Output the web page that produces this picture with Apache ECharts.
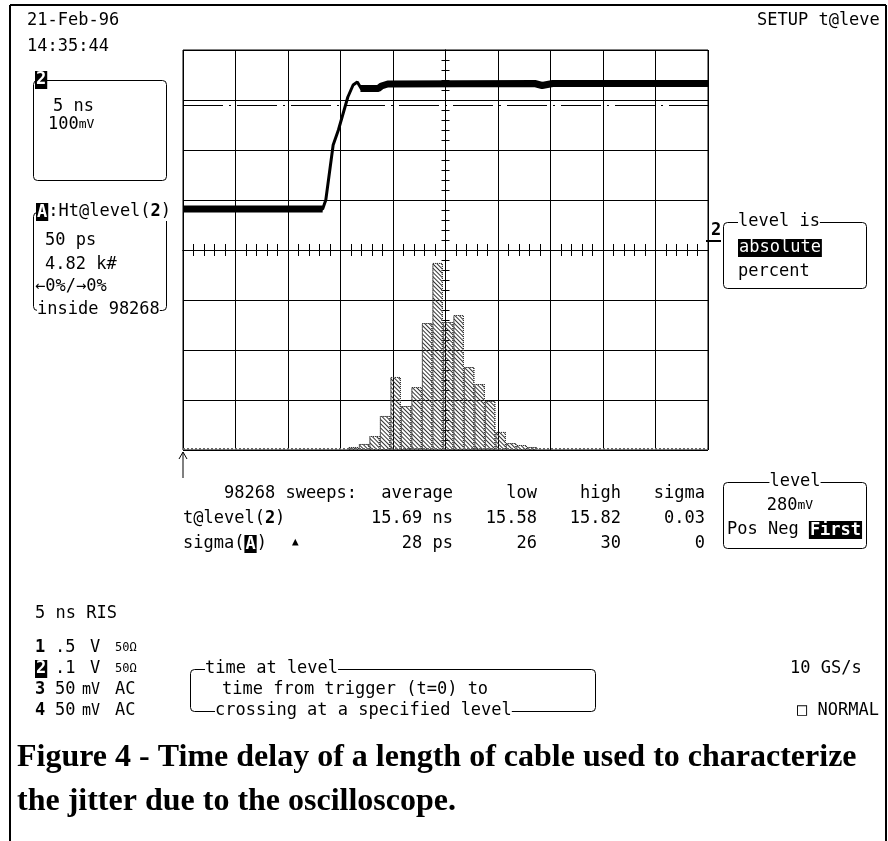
<!DOCTYPE html>
<html>
<head>
<meta charset="utf-8">
<script src="https://cdn.jsdelivr.net/npm/echarts@6/dist/echarts.min.js"></script>
<style>
html, body { margin: 0; padding: 0; background: #fff; }
#main { width: 888px; height: 841px; }
</style>
</head>
<body>
<div id="main"></div>
<script>
// channel 2 trace, [time ns from trigger, mV]
var edgeTrace = [[0, 72], [13.3, 72], [13.6, 90], [14.3, 200], [14.8, 230], [15.7, 296], [16.2, 320], [16.6, 326],
    [17.0, 312], [18.6, 312], [18.9, 318], [19.4, 322], [50, 323]];
var lowBand = [[0, 72], [13.3, 72]];
var highBand = [[16.9, 313], [18.6, 313], [18.9, 318], [19.5, 322], [33.5, 323], [34.2, 319], [35.2, 323], [50, 323]];
var levelMv = 280;

// histogram of t@level, bin centre (ps across the screen) and count
var binCenters = [162.5, 172.5, 182.5, 192.5, 202.5, 212.5, 222.5, 232.5, 242.5, 252.5, 262.5, 272.5, 282.5, 292.5, 302.5, 312.5, 322.5, 332.5];
var binCounts = [290, 580, 1350, 3280, 7040, 4240, 6070, 12240, 18030, 12340, 13010, 8000, 6360, 4720, 1740, 670, 480, 290];

// read-outs
var statHeads = ['average', 'low', 'high', 'sigma'];
var statLevel = ['15.69 ns', '15.58', '15.82', '0.03'];
var statSigma = ['28 ps', '26', '30', '0'];

var MONO = '"DejaVu Sans Mono", monospace';
var chart = echarts.init(document.getElementById('main'));

function txt(x, y, s, o) {
    o = o || {};
    return {
        type: 'text', x: x, y: y, z: 20,
        style: {
            text: s,
            font: (o.weight || 'normal') + ' ' + (o.size || 17) + 'px ' + (o.family || MONO),
            fill: o.fill || '#000',
            textAlign: o.align || 'left',
            textVerticalAlign: 'middle',
            backgroundColor: o.bg,
            padding: o.pad,
            rich: o.rich
        }
    };
}
function box(x, y, w, h) {
    return { type: 'rect', z: 10, shape: { x: x + 0.5, y: y + 0.5, width: w, height: h, r: 4 },
        style: { fill: null, stroke: '#000', lineWidth: 1 } };
}
function seg(x1, y1, x2, y2, w) {
    return { type: 'line', z: 10, shape: { x1: x1, y1: y1, x2: x2, y2: y2 }, style: { stroke: '#000', lineWidth: w || 1 } };
}
var rich = {
    n: { font: '17px ' + MONO, fill: '#000' },
    b: { font: 'bold 17px ' + MONO, fill: '#000' },
    inv: { font: 'bold 17px ' + MONO, fill: '#fff', backgroundColor: '#000', padding: [1, 1, 0, 1] },
    s: { font: '13px ' + MONO, fill: '#000' }
};

var g = [];
// frame
g.push(seg(10, 5, 10, 841, 2), seg(10, 5, 886, 5, 2), seg(886, 5, 886, 841, 2));
g.push(txt(27, 21, '21-Feb-96'), txt(27, 47, '14:35:44'), txt(757, 21, 'SETUP t@leve'));

// trace box
g.push(box(33, 80, 133, 100));
g.push(txt(35, 80, '2', { weight: 'bold', fill: '#fff', bg: '#000', pad: [1, 1, 0, 1] }));
g.push(txt(53, 107, '5 ns'));
g.push(txt(48, 125, '{n|100}{s|mV}', { rich: rich }));

// histogram box
g.push(box(33, 212, 133, 98));
g.push(txt(36, 212, '{inv|A}{n|:Ht@level(}{b|2}{n|)}', { rich: rich, bg: '#fff' }));
g.push(txt(45, 241, '50 ps'), txt(45, 265, '4.82 k#'));
g.push(txt(35, 287, '←0%/→0%', { bg: '#fff' }));
g.push(txt(37, 310, 'inside 98268', { bg: '#fff' }));

// level is
g.push(txt(711, 231, '2', { weight: 'bold' }), seg(706, 241, 721, 241, 2));
g.push(box(723, 222, 143, 66));
g.push(txt(738, 222, 'level is', { bg: '#fff' }));
g.push(txt(738, 248, 'absolute', { fill: '#fff', bg: '#000', pad: [1, 1, 0, 1] }));
g.push(txt(738, 272, 'percent'));

// trigger arrow
g.push(seg(183, 452, 183, 478), { type: 'polyline', z: 10, shape: { points: [[179, 459], [183, 452], [187, 459]] },
    style: { stroke: '#000', lineWidth: 1, fill: null } });

// statistics
var colR = [453, 537, 621, 705];
g.push(txt(224, 494, '98268 sweeps:'));
g.push(txt(183, 519, '{n|t@level(}{b|2}{n|)}', { rich: rich }));
g.push(txt(183, 544, '{n|sigma(}{inv|A}{n|)}', { rich: rich }));
g.push(txt(292, 542, '▲', { size: 11 }));
for (var i = 0; i < 4; i++) {
    g.push(txt(colR[i], 494, statHeads[i], { align: 'right' }));
    g.push(txt(colR[i], 519, statLevel[i], { align: 'right' }));
    g.push(txt(colR[i], 544, statSigma[i], { align: 'right' }));
}

// level box
g.push(box(723, 482, 143, 66));
g.push(txt(795, 482, 'level', { align: 'center', bg: '#fff' }));
g.push(txt(790, 506, '{n|280}{s|mV}', { rich: rich, align: 'center' }));
g.push(txt(727, 530, '{n|Pos Neg }{inv|First}', { rich: rich }));

// channel list
g.push(txt(35, 614, '5 ns RIS'));
var chY = [648, 669, 690, 711];
var chVal = ['.5', '.1', '50', '50'];
var chUnit = ['V', 'V', 'mV', 'mV'];
var chCpl = ['50Ω', '50Ω', 'AC', 'AC'];
for (var k = 0; k < 4; k++) {
    if (k === 1) g.push(txt(35, chY[k], '2', { weight: 'bold', fill: '#fff', bg: '#000', pad: [1, 1, 0, 1] }));
    else g.push(txt(35, chY[k], String(k + 1), { weight: 'bold' }));
    g.push(txt(55, chY[k], chVal[k]));
    g.push(txt(k < 2 ? 90 : 82, chY[k], chUnit[k], { size: k < 2 ? 17 : 15 }));
    g.push(txt(115, chY[k], chCpl[k], { size: k < 2 ? 12 : 17 }));
}
g.push(box(190, 669, 405, 42));
g.push(txt(205, 669, 'time at level', { bg: '#fff' }));
g.push(txt(222, 690, 'time from trigger (t=0) to'));
g.push(txt(215, 711, 'crossing at a specified level', { bg: '#fff' }));
g.push(txt(790, 669, '10 GS/s'), txt(797, 711, '□ NORMAL'));

// caption
var CAP = { family: '"Liberation Serif", serif', weight: 'bold', size: 32 };
g.push(txt(17, 758, 'Figure 4 - Time delay of a length of cable used to characterize', CAP));
g.push(txt(17, 802, 'the jitter due to the oscilloscope.', CAP));

function gratX(pos) {
    return {
        gridIndex: 0, type: 'value', min: -5, max: 5, interval: 1, position: pos,
        axisLine: { onZero: true, lineStyle: { color: '#000', width: 1 } },
        axisTick: { show: true, length: 6, lineStyle: { color: '#000' } },
        minorTick: { show: true, splitNumber: 5, length: 6, lineStyle: { color: '#000' } },
        splitLine: { show: pos === 'bottom', lineStyle: { color: '#000', width: 1 } },
        axisLabel: { show: false }
    };
}
function gratY(pos) {
    return {
        gridIndex: 0, type: 'value', min: -4, max: 4, interval: 1, position: pos,
        axisLine: { onZero: true, lineStyle: { color: '#000', width: 1 } },
        axisTick: { show: true, length: 4, lineStyle: { color: '#000' } },
        minorTick: { show: true, splitNumber: 5, length: 4, lineStyle: { color: '#000' } },
        splitLine: { show: pos === 'left', lineStyle: { color: '#000', width: 1 } },
        axisLabel: { show: false }
    };
}

var option = {
    animation: false,
    backgroundColor: '#fff',
    grid: [
        { left: 183, top: 50, width: 525, height: 400, show: true, borderColor: '#000', borderWidth: 1, containLabel: false, outerBoundsMode: 'none' },
        { left: 183, top: 50, width: 525, height: 200, containLabel: false, outerBoundsMode: 'none' },
        { left: 183, top: 250, width: 525, height: 200, containLabel: false, outerBoundsMode: 'none' }
    ],
    xAxis: [
        gratX('bottom'), gratX('top'),
        { gridIndex: 1, type: 'value', min: 0, max: 50, show: false },
        { gridIndex: 2, type: 'value', min: 0, max: 500, show: false }
    ],
    yAxis: [
        gratY('left'), gratY('right'),
        { gridIndex: 1, type: 'value', min: -10, max: 390, show: false },
        { gridIndex: 2, type: 'value', min: 0, max: 19280, show: false }
    ],
    series: [
        {
            type: 'bar', xAxisIndex: 3, yAxisIndex: 3, z: 1,
            data: binCenters.map(function (c, i) { return [c, binCounts[i]]; }),
            barWidth: 10.5,
            itemStyle: {
                color: 'rgba(255,255,255,0)', borderColor: '#333', borderWidth: 1, borderType: 'dotted',
                decal: { symbol: 'rect', symbolSize: 1, dashArrayX: [1, 0], dashArrayY: [1, 2], rotation: Math.PI / 4, color: '#333', backgroundColor: null }
            },
            markLine: { silent: true, symbol: 'none', label: { show: false }, data: [{ yAxis: 110 }],
                lineStyle: { color: '#666', type: 'dotted', width: 2 } }
        },
        {
            type: 'line', xAxisIndex: 2, yAxisIndex: 2, data: edgeTrace, showSymbol: false,
            lineStyle: { color: '#000', width: 3 },
            markLine: { silent: true, symbol: 'none', label: { show: false }, data: [{ yAxis: levelMv }],
                lineStyle: { color: '#000', type: [40, 6, 2, 6], width: 1 } }
        },
        { type: 'line', xAxisIndex: 2, yAxisIndex: 2, data: lowBand, showSymbol: false, lineStyle: { color: '#000', width: 7 } },
        { type: 'line', xAxisIndex: 2, yAxisIndex: 2, data: highBand, showSymbol: false, lineStyle: { color: '#000', width: 7 } }
    ],
    graphic: { elements: g }
};
chart.setOption(option);
</script>
</body>
</html>
